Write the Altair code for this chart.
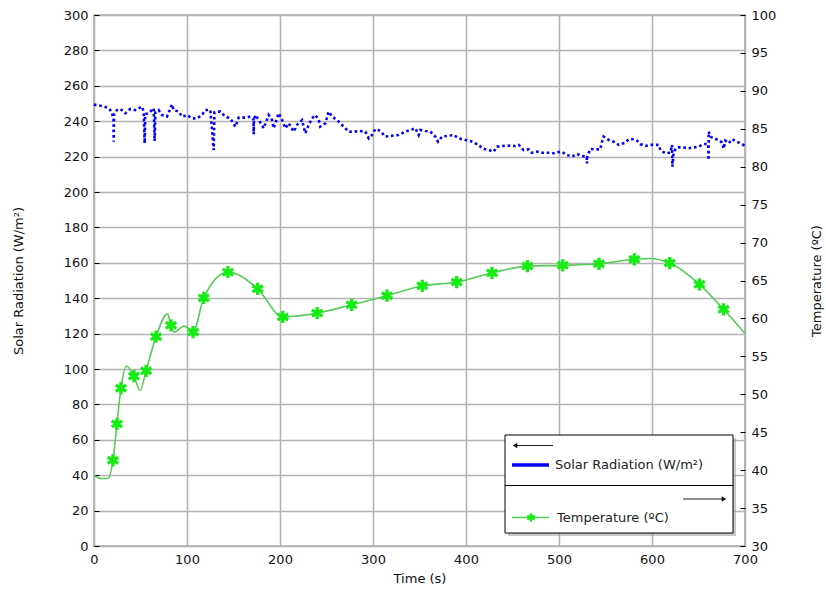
import altair as alt
import pandas as pd

FONT = "DejaVu Sans"

# Solar radiation record (time in s, radiation in W/m²); repeated times are the short drop-outs
rad_time = [0, 1.4, 5, 8.6, 14, 17.5, 19.4, 21, 21.2, 21.5, 24.7, 28.3, 33.7, 39, 44.4,
            51.6, 53.4, 54.5, 55, 58.8, 64.2, 65.2, 66, 69.5, 73.1, 78.5, 83.9, 85.7,
            91.1, 94.6, 100, 105.4, 110.8, 116.1, 119.7, 125.1, 128.7, 129.5, 132.3,
            135.8, 141.2, 146.6, 152, 155.6, 162.7, 168.1, 171.5, 171.7, 172, 173.5,
            177.1, 182.5, 187.8, 191.4, 193.2, 198.6, 202.2, 205.7, 209.4, 214.7, 218.3,
            223.7, 227.2, 230.9, 234.4, 238, 241.6, 243.3, 248.7, 252.3, 255.9, 261.3,
            268.5, 273.9, 279.2, 284.6, 291.8, 295.4, 299, 302.5, 307.9, 313.2, 320.4,
            327.6, 334.7, 340.1, 345.5, 349.1, 350.9, 356.2, 361.6, 367, 369.9, 374.2,
            381.4, 386.8, 392.2, 399.3, 404.6, 413.7, 417.2, 424.4, 429.8, 433.3, 438.7,
            445.9, 453, 456.7, 462, 467.4, 471, 476.3, 481.7, 488.9, 494.3, 497.8, 502.5,
            508.6, 514, 519.4, 524.7, 529.8, 530.1, 530.5, 531.9, 533.6, 539, 544.4,
            546.2, 548, 553.4, 558.8, 564.2, 571.3, 575, 580.3, 583.9, 587.4, 592.8,
            598.2, 601.8, 607.2, 609, 614.3, 619.7, 621.5, 622, 623.3, 627, 632.3, 639.5,
            644.8, 650.2, 655.6, 660.5, 660.8, 661, 662.7, 666.3, 671.7, 675.3, 677,
            678.8, 682.5, 686, 691.4, 696.8, 700]
rad_value = [249.5, 249.2, 249, 248.6, 247.8, 246.3, 244.5, 241, 228.4, 244, 246.3, 246.9,
             244.5, 246.9, 246.3, 248.2, 245.4, 227.5, 244, 244.5, 247.3, 228.8, 245,
             246.3, 243.5, 242.6, 249.5, 246.3, 245.4, 242.6, 243.5, 241.6, 241.6, 243.5,
             246.3, 246.3, 223.7, 245, 245.4, 245.4, 242.6, 241.6, 236.9, 242, 242, 242.6,
             241, 232.6, 240, 243.5, 240.7, 236, 243.5, 240.7, 236, 244.5, 240.7, 236,
             238.8, 234.1, 237.9, 240.7, 233.2, 237.9, 241.6, 243.5, 240.7, 236.9, 238.8,
             245.4, 242.6, 240.7, 236.9, 234.1, 234, 234.5, 234.1, 230.3, 232.2, 235.6,
             234.5, 231.3, 231.8, 232.2, 234.1, 235, 236, 232.2, 235, 234.5, 234.1, 231.3,
             228.4, 231.3, 231.8, 232.2, 230.3, 229.4, 228.8, 226.6, 224.7, 223.7, 222.8,
             225.6, 226, 226.2, 226, 226.6, 223.7, 224.1, 222.2, 222.8, 222.2, 222.2,
             221.9, 222.4, 222.8, 220.9, 220, 221.5, 220.3, 220, 216.2, 220, 221.9, 224.3,
             224.1, 224.1, 228.4, 231.3, 229.4, 228.4, 226.6, 227.9, 229.8, 229.8, 229,
             227.1, 226, 226.6, 226.6, 226.6, 223.7, 221.9, 222.2, 226.6, 214.3, 222.8,
             225.2, 225.2, 224.7, 225.2, 225.6, 227.1, 227.1, 218, 234.1, 231.3, 230.3,
             229.4, 227.9, 224.5, 229, 227.5, 229.8, 228.4, 227.1, 226]

# Temperature readings shown with markers (time in s, temperature in ºC)
mark_time = [20.4, 24.7, 29, 43, 56, 66.7, 82.8, 106.5, 118, 144, 176, 203, 240, 277, 315,
             353, 390, 428, 466, 504, 543, 581, 619, 651, 677]
mark_temp = [41.3, 46.1, 50.8, 52.4, 53.1, 57.6, 59.1, 58.2, 62.7, 66.1, 63.9, 60.2, 60.7,
             61.8, 63.0, 64.3, 64.8, 66.0, 66.9, 67.0, 67.2, 67.8, 67.3, 64.5, 61.2]

# Additional temperature readings between the marked ones
extra_time = [0, 8, 15, 35, 49.5, 79, 86, 97, 598, 700]
extra_temp = [39.3, 38.9, 38.9, 53.7, 50.5, 60.6, 58.2, 59.0, 67.9, 58.0]

rad_df = pd.DataFrame({"t": rad_time, "v": rad_value, "i": range(len(rad_time))})
mark_df = pd.DataFrame({"t": mark_time, "T": mark_temp})
temp_df = (pd.concat([mark_df, pd.DataFrame({"t": extra_time, "T": extra_temp})])
           .sort_values("t").reset_index(drop=True))

GRID = "#b4b4b4"
BLUE = "#0000ff"
GREEN_LINE = "#5acb5a"
GREEN_MARK = "#14ec14"

# six-armed asterisk marker
STAR = ("M -0.27 -1 L 0.27 -1 L 0.27 1 L -0.27 1 Z "
        "M 0.731 -0.7338 L 1.001 -0.2662 L -0.731 0.7338 L -1.001 0.2662 Z "
        "M 1.001 0.2662 L 0.731 0.7338 L -1.001 -0.2662 L -0.731 -0.7338 Z")

x_enc = alt.X(
    "t:Q",
    scale=alt.Scale(domain=[0, 700], nice=False),
    axis=alt.Axis(title="Time (s)", values=list(range(0, 701, 100)), grid=True,
                  gridColor=GRID, gridWidth=1.6, tickSize=0, labelPadding=7,
                  titlePadding=6, domain=False, labelFlush=False),
)

rad_scale = alt.Scale(domain=[0, 300], nice=False)
temp_scale = alt.Scale(domain=[30, 100], nice=False)

radiation = alt.Chart(rad_df).mark_line(
    color=BLUE, strokeWidth=2.6, strokeDash=[2.6, 2.8]
).encode(
    x=x_enc,
    y=alt.Y("v:Q", scale=rad_scale,
            axis=alt.Axis(orient="left", title="Solar Radiation (W/m²)",
                          values=list(range(0, 301, 20)), grid=True, gridColor=GRID,
                          gridWidth=1.6, tickSize=0, labelPadding=6, titlePadding=38,
                          domain=False, labelFlush=False)),
    order="i:Q",
)

temp_axis = alt.Axis(orient="right", title="Temperature (ºC)", titleAngle=-90,
                     values=list(range(30, 101, 5)), grid=False, tickSize=0,
                     labelPadding=6, titlePadding=48, domain=False, labelFlush=False)

temp_line = alt.Chart(temp_df).mark_line(
    color=GREEN_LINE, strokeWidth=1.6, interpolate="monotone"
).encode(x=x_enc, y=alt.Y("T:Q", scale=temp_scale, axis=temp_axis))

temp_marks = alt.Chart(mark_df).mark_point(
    shape=STAR, filled=True, fill=GREEN_MARK, strokeWidth=0, size=150, opacity=1
).encode(x=x_enc, y=alt.Y("T:Q", scale=temp_scale, axis=temp_axis))

temperature = alt.layer(temp_line, temp_marks)

# short tick marks pointing into the plot on both vertical edges
ticks_left = alt.Chart(rad_df).mark_point(opacity=0).encode(
    x=x_enc,
    y=alt.Y("v:Q", scale=rad_scale,
            axis=alt.Axis(orient="left", title=None, labels=False, grid=False,
                          domain=False, tickSize=5, offset=-5, tickColor="#000",
                          values=list(range(0, 301, 20)))),
)
ticks_right = alt.Chart(mark_df).mark_point(opacity=0).encode(
    x=x_enc,
    y=alt.Y("T:Q", scale=temp_scale,
            axis=alt.Axis(orient="right", title=None, labels=False, grid=False,
                          domain=False, tickSize=5, offset=-5, tickColor="#000",
                          values=list(range(30, 101, 5)))),
)

# legend box
one = alt.Chart(pd.DataFrame({"k": [0]}))
legend = alt.layer(
    one.mark_rect(fill="#999999", opacity=0.55).encode(
        x=alt.value(414), x2=alt.value(642), y=alt.value(423), y2=alt.value(521)),
    one.mark_rect(fill="white", stroke="black", strokeWidth=1).encode(
        x=alt.value(411), x2=alt.value(639), y=alt.value(420), y2=alt.value(518)),
    one.mark_rule(color="black", strokeWidth=1).encode(
        x=alt.value(411), x2=alt.value(639), y=alt.value(470.5)),
    one.mark_rule(color="#222", strokeWidth=1).encode(
        x=alt.value(421), x2=alt.value(459), y=alt.value(430.5)),
    one.mark_point(shape="triangle-left", filled=True, color="#111", size=28, opacity=1).encode(
        x=alt.value(421), y=alt.value(430.5)),
    one.mark_rule(color=BLUE, strokeWidth=3.5).encode(
        x=alt.value(418), x2=alt.value(455), y=alt.value(450)),
    one.mark_text(align="left", baseline="middle", font=FONT, fontSize=13, color="#222").encode(
        x=alt.value(461), y=alt.value(450), text=alt.value("Solar Radiation (W/m²)")),
    one.mark_rule(color="#222", strokeWidth=1).encode(
        x=alt.value(589), x2=alt.value(629), y=alt.value(484)),
    one.mark_point(shape="triangle-right", filled=True, color="#111", size=28, opacity=1).encode(
        x=alt.value(630), y=alt.value(484)),
    one.mark_rule(color=GREEN_LINE, strokeWidth=1.4).encode(
        x=alt.value(418), x2=alt.value(455), y=alt.value(502.5)),
    one.mark_point(shape=STAR, filled=True, fill=GREEN_MARK, strokeWidth=0, size=70,
                   opacity=1).encode(x=alt.value(437), y=alt.value(502.5)),
    one.mark_text(align="left", baseline="middle", font=FONT, fontSize=13, color="#222").encode(
        x=alt.value(463), y=alt.value(503), text=alt.value("Temperature (ºC)")),
)

chart = alt.layer(
    radiation, temperature, ticks_left, ticks_right, legend
).resolve_scale(
    y="independent"
).properties(
    width=651, height=531,
    autosize=alt.AutoSizeParams(type="none"),
    padding={"left": 94, "top": 15, "right": 81, "bottom": 43},
    background="white",
).configure_view(
    stroke="black", strokeWidth=1.2
).configure_axis(
    labelFont=FONT, labelFontSize=13, labelColor="#111",
    titleFont=FONT, titleFontSize=13, titleFontWeight="normal", titleColor="#111",
)

chart.save("out.html", embed_options={"renderer": "svg", "actions": False})
